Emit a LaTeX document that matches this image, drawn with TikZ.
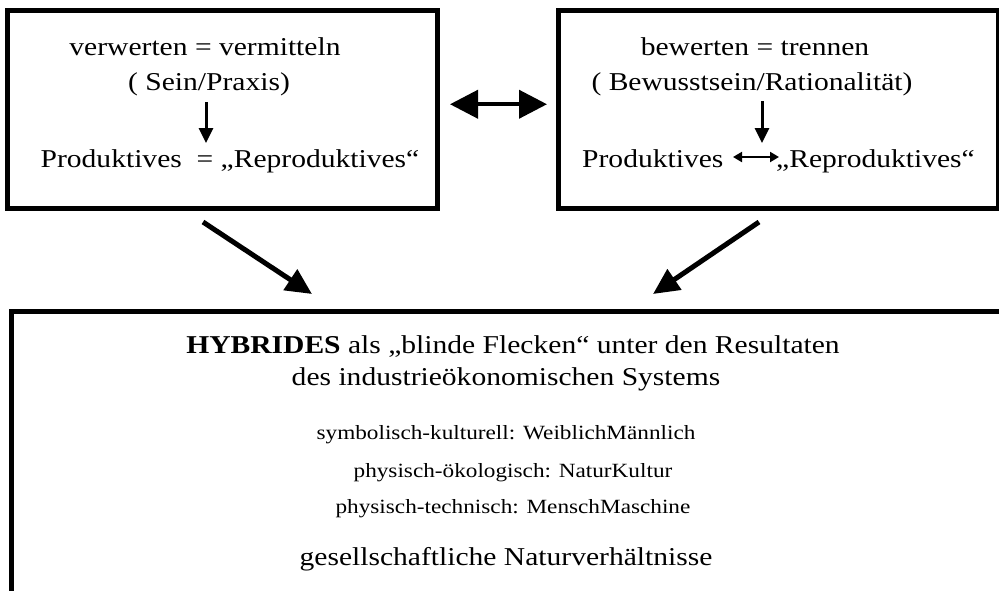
\documentclass[tikz,border=0pt]{standalone}
\usepackage{fontspec}
\setmainfont{Liberation Serif}[FakeStretch=1.15]
\usetikzlibrary{arrows.meta}
\begin{document}
\begin{tikzpicture}[x=1pt,y=-1pt,
  frame/.style={draw, line width=5pt, inner sep=0pt},
  big/.style={font=\fontsize{25.7}{30}\selectfont, inner sep=0pt, anchor=base},
  small/.style={font=\fontsize{20.2}{24}\selectfont, inner sep=0pt, anchor=base},
  thickarrow/.style={line width=5pt, -{Triangle[length=26pt,width=24pt]}},
  dblarrow/.style={line width=4pt, {Triangle[length=28pt,width=28pt]}-{Triangle[length=28pt,width=28pt]}},
  downarrow/.style={line width=3pt, -{Triangle[length=15pt,width=14pt]}},
  tinyarrow/.style={line width=2pt, {Triangle[length=9pt,width=10pt]}-{Triangle[length=9pt,width=10pt]}}]
\useasboundingbox (0,0) rectangle (999,590);
\clip (0,0) rectangle (999,590);

% the three frames (the lower one runs past the page edge)
\node[frame, minimum width=430pt, minimum height=198pt, anchor=north west] (lbox) at (4.5,7.5) {};
\node[frame, minimum width=440.5pt, minimum height=198pt, anchor=north west] (rbox) at (555.5,7.5) {};
\node[frame, minimum width=1011.5pt, minimum height=311.5pt, anchor=north west] (bbox) at (8.5,308.5) {};

% left frame
\node[big] (l1) at (205,55) {verwerten = vermitteln};
\node[big] (l2) at (209,90) {( Sein/Praxis)};
\node[big] (l3) at (230,167) {Produktives \ = „Reproduktives“};
\coordinate (la) at (206,102);
\coordinate (lb) at (206,143);
\draw[downarrow] (la) -- (lb);

% right frame
\node[big] (r1) at (755,55) {bewerten = trennen};
\node[big] (r2) at (752,90) {( Bewusstsein/Rationalität)};
\node[big, anchor=base west] (r3a) at (582,167) {Produktives};
\node[big, anchor=base east] (r3b) at (975,167) {„Reproduktives“};
\coordinate (ra) at (762,101);
\coordinate (rb) at (762,143);
\draw[downarrow] (ra) -- (rb);
\coordinate (rl) at (733,157);
\coordinate (rr) at (779,157);
\draw[tinyarrow] (rl) -- (rr);

% link between the upper frames
\draw[dblarrow, shorten <=10.5pt, shorten >=8.5pt] ([yshift=4.75pt]lbox.east) -- ([yshift=4.75pt]rbox.west);

% arrows into the lower frame
\coordinate (da1) at (203,222);
\coordinate (da2) at (312,294);
\coordinate (db1) at (759,222);
\coordinate (db2) at (653,294);
\draw[thickarrow] (da1) -- (da2);
\draw[thickarrow] (db1) -- (db2);

% lower frame
\node[big] (b1) at (513,353) {\textbf{HYBRIDES} als „blinde Flecken“ unter den Resultaten};
\node[big] (b2) at (506,385) {des industrieökonomischen Systems};
\node[small] (b3) at (506,439) {symbolisch-kulturell: WeiblichMännlich};
\node[small] (b4) at (513,477) {physisch-ökologisch: NaturKultur};
\node[small] (b5) at (513,513) {physisch-technisch: MenschMaschine};
\node[big] (b6) at (506,565) {gesellschaftliche Naturverhältnisse};
\end{tikzpicture}
\end{document}
